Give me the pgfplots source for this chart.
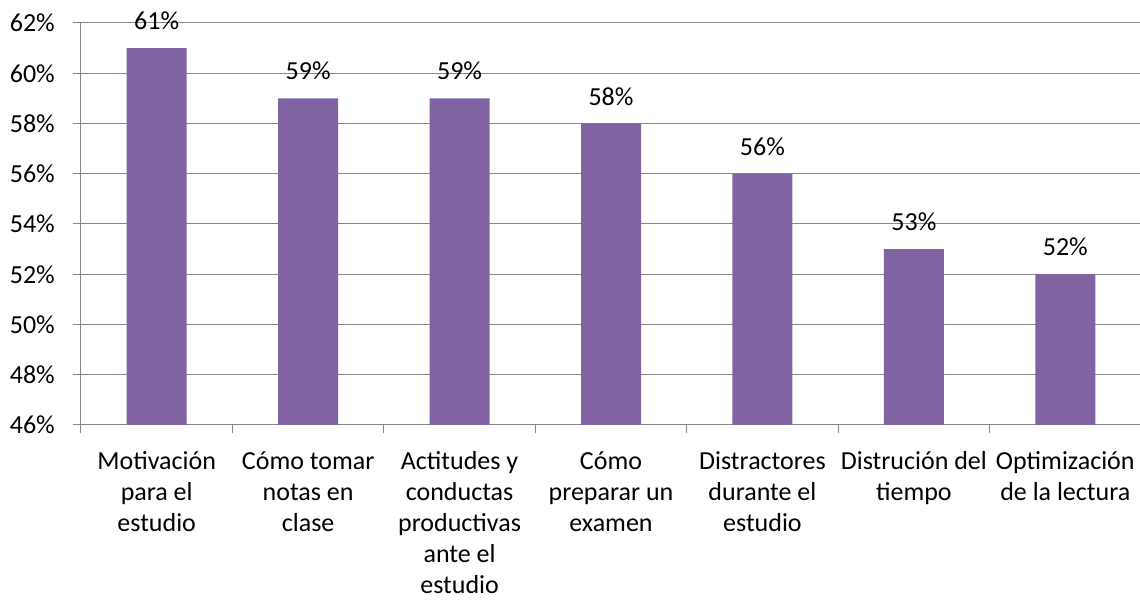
\documentclass[border=0pt]{standalone}
\usepackage{pgfplots}
\pgfplotsset{compat=1.18}
\usepackage{fontspec}
\setmainfont{Carlito}
\definecolor{barc}{HTML}{8064A2}
\definecolor{gridc}{HTML}{868686}
\begin{document}
\begin{tikzpicture}
\begin{axis}[
  name=ax,
  scale only axis,
  width=1060pt, height=402pt,
  xmin=-0.5, xmax=6.5,
  ymin=46, ymax=62,
  ybar, bar width=60pt, bar shift=0pt,
  axis x line*=bottom, axis y line*=left,
  axis line style={gridc, line width=1pt},
  xtick={0,1,2,3,4,5,6},
  xticklabels={{\strut Motivación\\para el\\estudio},{\strut Cómo tomar\\notas en\\clase},{\strut Actitudes y\\conductas\\productivas\\ante el\\estudio},{\strut Cómo\\preparar un\\examen},{\strut Distractores\\durante el\\estudio},{\strut Distrución del\\tiempo},{\strut Optimización\\de la lectura}},
  major x tick style={draw=none},
  minor xtick={-0.5,0.5,1.5,2.5,3.5,4.5,5.5,6.5},
  minor x tick style={gridc, line width=1pt},
  minor tick length=8pt,
  ytick={46,48,...,62},
  yticklabel={\pgfmathprintnumber{\tick}\%},
  major tick length=8pt,
  tick align=outside,
  y tick style={gridc, line width=1pt},
  ymajorgrids,
  grid style={gridc, line width=1pt},
  /pgf/number format/assume math mode=true,
  xticklabel style={font=\fontsize{26}{31}\selectfont, align=center, anchor=north, inner sep=0pt, yshift=-15pt},
  yticklabel style={font=\fontsize{26}{31}\selectfont, anchor=east, inner sep=0pt, xshift=-18pt},
  nodes near coords={\pgfmathprintnumber{\pgfplotspointmeta}\%},
  nodes near coords style={font=\fontsize{26}{31}\selectfont, anchor=south, inner sep=0pt, yshift=18pt, black},
  clip=false,
]
\addplot[fill=barc, draw=none] coordinates {(0,61) (1,59) (2,59) (3,58) (4,56) (5,53) (6,52)};
\coordinate (ll) at (rel axis cs:0,0);
\end{axis}
\pgfresetboundingbox
\path[use as bounding box] ([shift={(-81pt,-176pt)}]ll) rectangle ++(1140pt,601pt);
\end{tikzpicture}
\end{document}
